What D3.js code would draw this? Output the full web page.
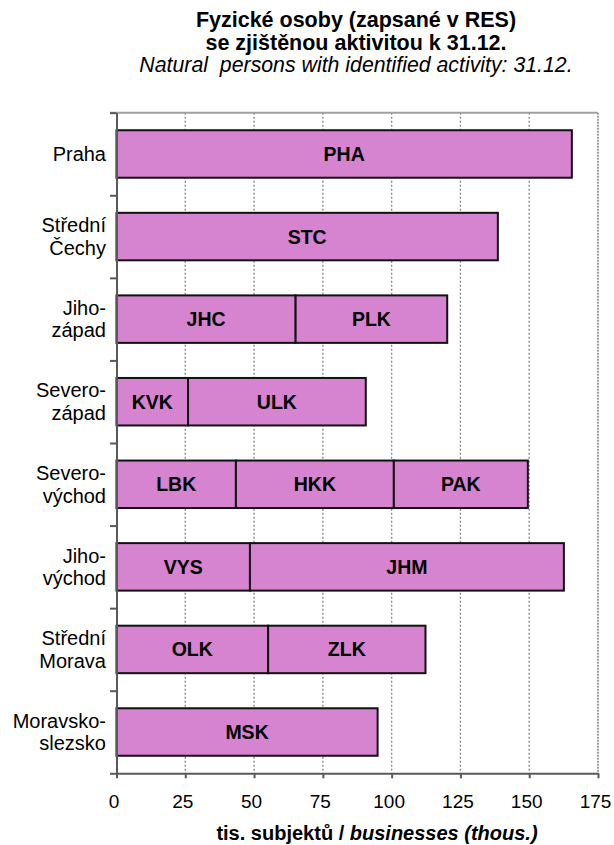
<!DOCTYPE html>
<html>
<head>
<meta charset="utf-8">
<script src="https://cdn.jsdelivr.net/npm/d3@7/dist/d3.min.js"></script>
<style>
  html, body { margin: 0; padding: 0; background: #fff; }
  svg { display: block; font-family: "Liberation Sans", Arial, sans-serif; }
  text { white-space: pre; }
</style>
</head>
<body>
<svg id="chart" width="614" height="845"></svg>
<script>
// NUTS 2 regions (cohesion regions), top to bottom, with their label lines
const regionLines = [
  ["Praha"],
  ["Střední", "Čechy"],
  ["Jiho-", "západ"],
  ["Severo-", "západ"],
  ["Severo-", "východ"],
  ["Jiho-", "východ"],
  ["Střední", "Morava"],
  ["Moravsko-", "slezsko"]
];

// Kraje (NUTS 3), in stacking order, with the region index each belongs to
const krajCodes  = ["PHA", "STC", "JHC", "PLK", "KVK", "ULK", "LBK", "HKK", "PAK", "VYS", "JHM", "OLK", "ZLK", "MSK"];
const krajRegion = [0, 1, 2, 2, 3, 3, 4, 4, 4, 5, 5, 6, 6, 7];
// Natural persons with identified activity, thousands
const krajValues = [165.5, 138.6, 65.1, 55.1, 26.0, 64.6, 43.4, 57.4, 48.7, 48.5, 114.1, 55.1, 57.2, 94.9];

const xTicks = [0, 25, 50, 75, 100, 125, 150, 175];

const titleLines = ["Fyzické osoby (zapsané v RES)", "se zjištěnou aktivitou k 31.12."];
const subtitle = "Natural  persons with identified activity: 31.12.";
const axisTitleCz = "tis. subjektů / ";
const axisTitleEn = "businesses (thous.)";

// ---- layout ----
const svg = d3.select("#chart");
const plotLeft = 116.5, plotRight = 598, plotTop = 112.7, plotBottom = 773.3;
const barFill = "#d683d0";

const x = d3.scaleLinear().domain([0, 175]).range([plotLeft, plotRight]);
const y = d3.scaleBand()
  .domain(d3.range(regionLines.length))
  .range([plotTop, plotBottom])
  .paddingInner(0.425)
  .paddingOuter(0.2125);
// band boundaries for the category ticks
const yEdges = d3.scaleLinear().domain([0, regionLines.length]).range([plotTop, plotBottom]);

// stacked segments: running sum within each region
const running = new Array(regionLines.length).fill(0);
const segments = krajCodes.map((code, i) => {
  const r = krajRegion[i];
  const x0 = running[r];
  running[r] += krajValues[i];
  return { code, region: r, x0, x1: running[r] };
});

// ---- titles ----
const cx = 356;
svg.append("text").attr("x", cx).attr("y", 27).attr("text-anchor", "middle")
  .attr("font-size", 21.5).attr("font-weight", "bold").text(titleLines[0]);
svg.append("text").attr("x", cx).attr("y", 50).attr("text-anchor", "middle")
  .attr("font-size", 21.5).attr("font-weight", "bold").text(titleLines[1]);
svg.append("text").attr("x", cx).attr("y", 72).attr("text-anchor", "middle")
  .attr("font-size", 21.3).attr("font-style", "italic").text(subtitle);

// ---- grid ----
svg.append("g").selectAll("line")
  .data(xTicks.filter(v => v > 0 && v < 175))
  .join("line")
  .attr("x1", d => x(d)).attr("x2", d => x(d))
  .attr("y1", plotTop).attr("y2", plotBottom)
  .attr("stroke", "#8c8c8c").attr("stroke-width", 1.4)
  .attr("stroke-dasharray", "2,2");

// plot frame: top and right edges
svg.append("line")
  .attr("x1", plotLeft - 6.5).attr("x2", plotRight)
  .attr("y1", plotTop).attr("y2", plotTop)
  .attr("stroke", "#a0a0a0").attr("stroke-width", 2);
svg.append("line")
  .attr("x1", x(175)).attr("x2", x(175))
  .attr("y1", plotTop).attr("y2", plotBottom)
  .attr("stroke", "#a0a0a0").attr("stroke-width", 2)
  .attr("stroke-dasharray", "2,1");

// ---- bars ----
const bars = svg.append("g");
bars.selectAll("rect")
  .data(segments)
  .join("rect")
  .attr("x", d => x(d.x0))
  .attr("y", d => y(d.region))
  .attr("width", d => x(d.x1) - x(d.x0))
  .attr("height", y.bandwidth())
  .attr("fill", barFill)
  .attr("stroke", "#111")
  .attr("stroke-width", 2);

bars.selectAll("text")
  .data(segments)
  .join("text")
  .attr("x", d => (x(d.x0) + x(d.x1)) / 2)
  .attr("y", d => y(d.region) + y.bandwidth() / 2 + 7)
  .attr("text-anchor", "middle")
  .attr("font-size", 19.5)
  .attr("font-weight", "bold")
  .attr("fill", "#000")
  .text(d => d.code);

// ---- axes ----
const yAxis = svg.append("g")
  .attr("transform", `translate(${plotLeft},0)`)
  .call(d3.axisLeft(yEdges).tickValues(d3.range(regionLines.length + 1)).tickFormat("").tickSize(6.5).tickSizeOuter(0));
yAxis.select(".domain").attr("stroke", "#595959").attr("stroke-width", 2);
yAxis.selectAll(".tick line").attr("stroke", "#595959").attr("stroke-width", 2);

const xAxis = svg.append("g")
  .attr("transform", `translate(0,${plotBottom})`)
  .call(d3.axisBottom(x).tickValues(xTicks).tickSize(5).tickSizeOuter(0).tickPadding(16));
xAxis.select(".domain").attr("stroke", "#595959").attr("stroke-width", 2);
xAxis.selectAll(".tick line").attr("stroke", "#595959").attr("stroke-width", 2);
xAxis.selectAll(".tick text")
  .attr("font-family", "'Liberation Sans', Arial, sans-serif")
  .attr("font-size", 19)
  .attr("fill", "#000")
  .attr("dx", -3);

// category labels
const catG = svg.append("g");
regionLines.forEach((lines, i) => {
  const mid = y(i) + y.bandwidth() / 2;
  const t = catG.append("text")
    .attr("text-anchor", "end")
    .attr("font-size", 20)
    .attr("fill", "#000");
  lines.forEach((ln, j) => {
    const offset = (j - (lines.length - 1) / 2) * 22.5;
    t.append("tspan").attr("x", 106).attr("y", mid + offset + 7).text(ln);
  });
});

// axis title
const at = svg.append("text")
  .attr("x", 377).attr("y", 840)
  .attr("text-anchor", "middle")
  .attr("font-size", 20)
  .attr("font-weight", "bold");
at.append("tspan").text(axisTitleCz);
at.append("tspan").attr("font-style", "italic").text(axisTitleEn);
</script>
</body>
</html>
